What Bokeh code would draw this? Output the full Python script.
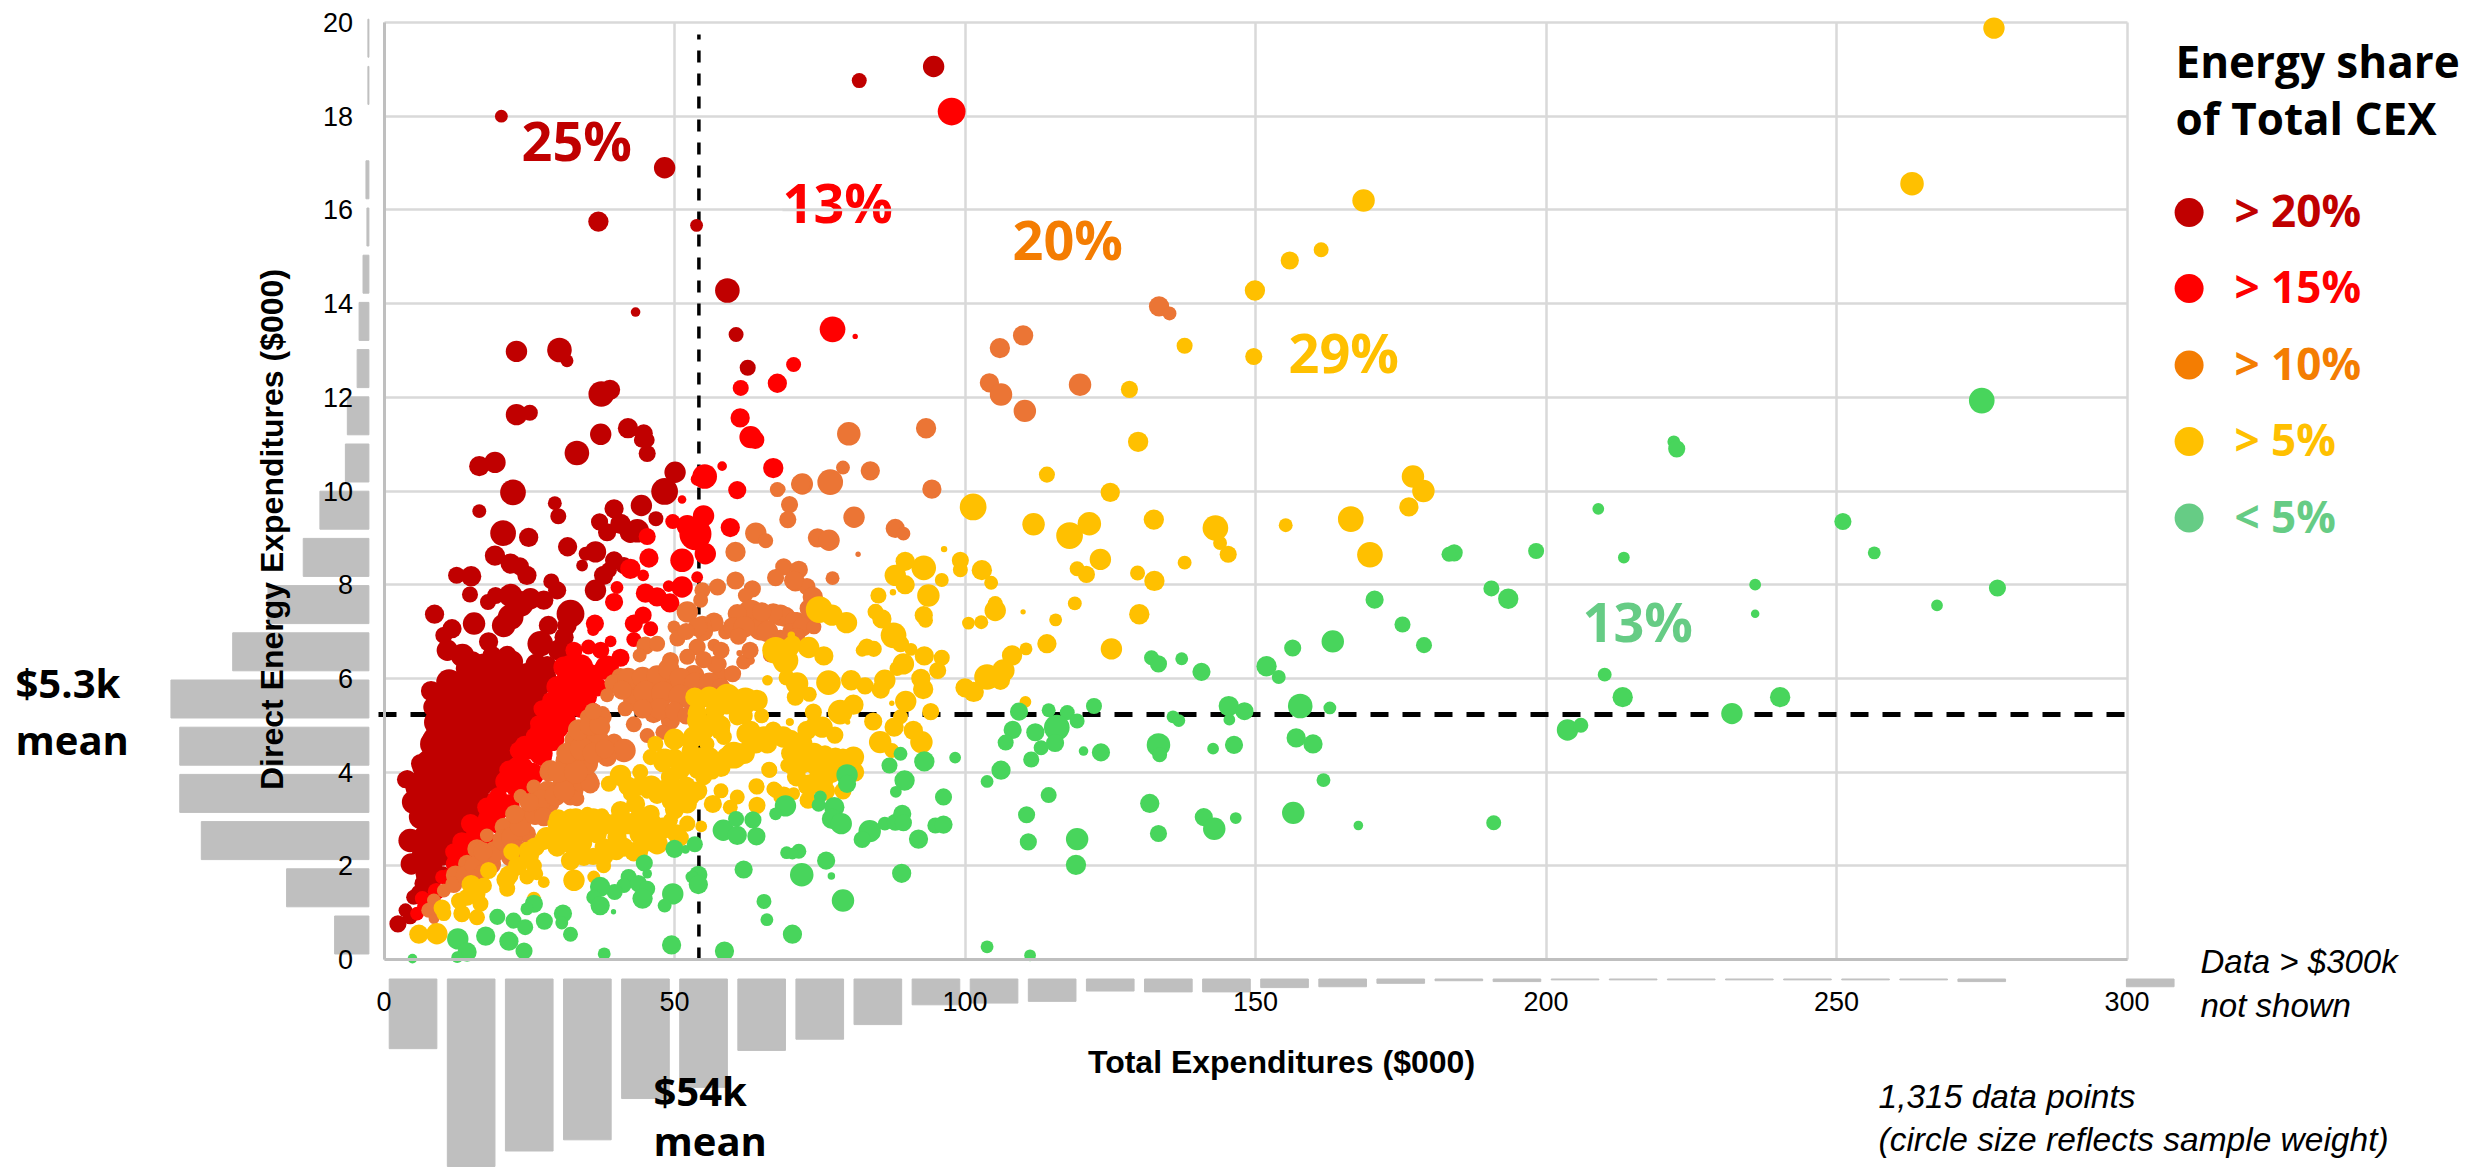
from bokeh.plotting import figure
from bokeh.models import Range1d, FixedTicker, ColumnDataSource
from bokeh.core.properties import value
from bokeh.embed import file_html
from bokeh.resources import INLINE
from math import pi

# ---- data (x = total expenditures $000, y = direct energy $000, d = circle size) ----
share20 = [
(94.6,19.06,20),(81.8,18.76,14),(20.2,18.0,12),(48.3,16.9,20),(36.9,15.75,19),(53.8,15.67,12),
(59.1,14.28,23),(43.3,13.82,9),(60.6,13.34,14),(22.8,12.98,20),(30.2,13.01,23),(31.5,12.78,12),(62.6,12.63,15),
(37.4,12.07,24),(38.9,12.16,19),(22.8,11.63,20),(25.1,11.67,15),(37.3,11.21,20),(42.0,11.34,19),(44.7,11.23,17),
(44.3,11.09,14),(45.3,11.09,14),(45.3,10.80,16),(33.2,10.81,23),(16.4,10.53,19),(19.1,10.61,20),(50.1,10.40,20),
(48.3,9.99,25),(22.2,9.97,24),(29.4,9.74,13),(30.0,9.46,15),(16.4,9.57,13),(44.3,9.69,20),(39.6,9.62,18),
(46.8,9.41,14),(37.1,9.34,16),(38.4,9.12,17),(40.7,9.30,19),(42.4,9.12,20),(43.6,9.15,22),(20.5,9.10,24),
(24.9,9.01,18),(31.6,8.81,18),(36.4,8.70,20),(34.1,8.41,11),(34.7,8.66,13),(39.6,8.52,17),(37.8,8.20,18),
(36.4,7.88,20),(38.7,8.31,15),(41.3,8.41,16),(19.1,8.62,19),(21.8,8.45,19),(23.4,8.39,17),(24.6,8.20,18),
(12.5,8.20,16),(15.0,8.18,19),(14.8,7.79,15),(28.8,8.07,15),(29.8,7.88,17),(8.7,7.37,18),(15.5,7.17,21),
(17.9,7.63,15),(19.2,7.77,16),(21.8,7.77,22),(23.5,7.59,24),(25.2,7.70,20),(27.5,7.67,18),(21.8,7.31,24),
(20.6,7.13,22),(32.1,7.38,26),(31.5,7.13,18),(28.3,7.13,18),(31.0,6.88,18),(26.9,6.74,24),(30.1,6.60,20),
(11.7,7.06,18),(10.3,6.92,16),(10.9,6.60,20),(13.5,6.49,22),(18.0,6.78,18),(18.6,6.49,18),(21.2,6.49,18),
(14.0,6.21,18),(15.7,6.17,22),(19.5,6.06,28),(20.6,6.17,20),(24.6,6.10,20),(27.8,6.03,20),(26.4,5.82,22),
(12.3,5.71,28),(8.1,5.73,19),(14.6,5.74,24),(17.8,5.74,24),(20.6,5.78,24),(22.9,5.46,22),(9.6,5.39,18),
(12.6,5.39,24),(16.0,5.39,26),(19.5,5.32,24),(25.2,5.39,20),(9.2,4.68,28),(12.0,4.82,30),(14.3,4.96,28),
(17.8,4.68,30),(20.1,4.61,22),(10.3,4.96,18),(21.8,4.75,18),(11.4,4.39,24),(15.2,4.32,26),(18.3,4.32,24),
(6.3,4.18,18),(9.7,4.11,24),(13.2,4.04,24),(16.6,3.97,24),(4.0,3.86,16),(5.7,3.68,22),(8.6,3.68,24),
(12.0,3.68,24),(15.2,3.68,24),(18.0,3.82,18),(3.7,3.84,16),(6.5,4.11,18),(5.1,3.36,22),(7.4,3.54,26),
(10.3,3.68,28),(13.7,3.47,26),(16.6,3.75,24),(18.3,3.86,18),(6.3,3.04,22),(9.1,3.11,24),(12.0,3.18,22),
(14.9,3.11,20),(4.5,2.54,22),(8.0,2.83,20),(10.9,2.75,18),(4.7,2.04,20),(8.6,2.40,22),(10.3,2.54,18),
(7.4,1.90,20),(8.6,2.04,16),(6.8,1.62,17),(5.1,1.33,14),(3.7,1.05,13),(2.4,0.76,16),(4.5,0.91,14),
(9.7,4.25,24),(12.6,4.11,24),(15.4,4.25,24),(18.3,4.46,26),(20.0,4.75,22),(21.8,5.1,22),(25.2,5.39,18),
(11.4,5.17,24),(14.9,5.25,24),(18.3,5.32,22),(8.6,5.39,20),
# read from the solid dark mass
(11.2,5.92,24),(13.1,5.88,24),(16.2,5.95,26),(19.3,5.85,24),(22.6,5.93,24),(25.3,5.87,22),(27.2,5.95,20),
(10.6,5.52,24),(13.6,5.47,26),(16.9,5.55,26),(20.2,5.48,24),(23.1,5.52,24),(26.2,5.45,20),
(9.1,5.06,24),(11.6,5.02,26),(14.8,5.1,26),(17.6,5.03,28),(20.6,5.08,26),(23.7,5.01,24),(26.1,5.07,20),
(8.6,4.6,26),(11.1,4.56,26),(13.4,4.63,26),(16.6,4.58,26),(19.1,4.62,26),(22.2,4.55,22),
(7.6,4.22,22),(10.6,4.18,26),(13.6,4.24,26),(16.1,4.19,26),(19.2,4.16,22),(20.6,4.24,18),
(6.6,3.82,22),(9.6,3.78,26),(12.1,3.85,26),(14.6,3.79,26),(17.1,3.83,22),(19.1,3.77,16),
(6.1,3.42,22),(8.1,3.37,24),(11.1,3.43,24),(13.1,3.38,24),(15.6,3.42,22),(17.6,3.36,16),
(6.6,3.02,22),(8.6,2.97,24),(10.6,3.03,24),(13.1,2.98,22),(15.1,3.02,18),
(7.1,2.62,22),(9.1,2.57,22),(11.1,2.63,22),(13.1,2.58,18),
(6.6,2.22,20),(8.1,2.18,22),(10.1,2.23,20),(11.6,2.17,16),
(7.1,1.82,18),(8.6,1.77,18),(10.1,1.83,14),(6.1,1.42,16),(7.6,1.38,16),
(15.1,6.33,22),(17.2,6.28,22),(22.1,6.36,20),(26.2,6.3,20),(28.1,6.27,18),
]
share15 = [
(97.7,18.1,26),
(67.7,12.3,18),(70.5,12.7,14),(61.4,12.2,15),(61.3,11.56,18),(63.1,11.15,21),(63.9,11.09,17),(58.2,10.53,9),
(55.2,10.31,23),(53.9,10.25,12),(67,10.49,19),(60.8,10.02,17),(51.3,9.82,8),(49.7,9.35,14),(52.2,9.26,20),
(55,9.47,20),(53.6,9.08,30),(59.6,9.22,18),(45.3,9.03,16),(77.2,13.45,24),(81.1,13.3,5),(55.3,8.66,20),
(51.3,8.52,22),(45.6,8.57,18),(42.4,8.34,19),(44.6,8.2,11),(40.1,7.94,12),(53.9,8.16,11),(49,7.97,11),
(51.3,7.95,20),(45,7.82,18),(47,7.74,18),(49.2,7.61,18),(39.6,7.63,17),(36.3,7.17,17),(36,7.03,11),
(44.6,7.35,16),(43,7.17,17),(45.9,7.06,14),(43,6.83,14),(39,6.79,11),(40.7,6.44,17),(35.2,6.67,14),
(37.3,6.6,16),(32.7,6.6,16),(38.4,6.24,22),(31,6.24,20),(33.8,6.24,24),(31.5,5.89,24),(29.8,5.82,20),
(33.8,5.67,22),(36.7,5.82,18),(27.2,5.35,16),(28.7,5.53,16),(30.4,5.32,24),(33.8,5.39,20),(26.6,5.03,16),
(29.8,4.96,22),(27.8,4.71,17),(24.2,4.57,18),(23.5,4.39,16),(27.5,4.29,15),(23.2,4.46,17),(21.5,4.04,18),
(24,4.11,18),(19.7,3.5,16),(22.6,3.68,18),(17.7,3.25,18),(20,3.18,16),(14.9,2.9,18),(17.5,2.9,18),
(13.4,2.51,18),(15.7,2.61,18),(12,2.04,15),(14.6,2.19,16),(10,1.76,13),(6.6,1.3,14),(5.7,0.98,13),(6.8,1.12,12),
(38,6.2,20),(35.5,6.05,22),(33,5.9,22),(31,5.6,22),(33,5.5,22),(35,5.6,18),(29,5.3,22),(31,5.1,22),
(27,4.9,20),(29,4.7,22),(25,4.5,20),(27,4.4,22),(23,4.1,20),(25.5,3.95,22),(21,3.8,20),(23.5,3.6,20),
(19.5,3.4,20),(21.5,3.3,20),(18,3.0,20),(19.5,2.9,18),(16,2.7,20),(17.5,2.55,18),(14,2.35,18),(15.5,2.2,16),
(12.5,2.1,18),(11,1.75,16),(9,1.45,16),(8,1.2,14),(12,2.3,16),(36,5.3,16),(32,6.3,18),(26,4.75,18),(24,4.0,16),
]
share10 = [
(133.4,13.94,19),(135.2,13.79,13),(110,13.32,19),(106,13.05,19),(104.2,12.31,18),(106.2,12.06,21),(110.3,11.71,21),
(119.8,12.27,21),(80,11.22,22),(93.3,11.34,19),(79,10.5,13),(83.7,10.43,18),(76.8,10.19,24),(72,10.15,20),
(94.3,10.04,18),(69.8,9.71,16),(80.9,9.44,20),(68.2,10.04,10),(69.5,9.39,16),(88,9.2,18),(89.4,9.09,13),
(74.6,9.0,18),(76.6,8.95,20),(81.6,8.65,5),(77.2,8.14,13),(68.8,8.38,16),(71.4,8.32,17),(70.8,8.06,18),
(72.8,7.96,16),(73.8,7.74,19),(73.4,7.38,14),(69.1,7.31,19),(71.1,7.2,19),(68.2,6.88,14),(67.7,10.03,14),
(71.7,10.15,18),(64,9.1,20),(65.7,8.94,14),(60.5,8.7,19),(67.4,8.15,16),(70.5,8.09,18),(60.5,8.09,17),
(57.4,7.95,16),(54.8,7.88,15),(54.5,7.67,14),(63.4,7.91,16),(62.2,7.77,14),(52.2,7.42,20),(63.1,7.38,26),
(60.8,7.38,18),(68.2,7.35,20),(70.5,7.24,16),(64.8,7.06,22),(58.8,6.99,14),(56.8,7.2,18),(54.8,7.13,18),
(49.9,7.1,12),(50.5,6.85,15),(45,6.7,17),(47,6.74,15),(44,6.49,13),(53.9,6.67,16),(56.8,6.71,12),(52.2,6.46,15),
(49.3,6.38,16),(61.2,6.54,6),(61.9,6.35,14),(63.1,6.38,8),(57.8,6.31,13),(57.9,6.06,16),(40.7,6.03,17),
(39.6,5.89,18),(38.4,5.64,13),(43.6,5.82,20),(46.4,5.85,20),(43,5.53,20),(46.4,5.53,22),(49.9,5.82,22),
(53.3,6.06,20),(55.1,5.74,20),(52.8,5.53,18),(46.4,5.25,18),(43,5.02,15),(45.3,4.78,14),(49.3,5.1,18),
(35,5.18,14),(37.6,5.25,14),(34.1,4.89,18),(37.3,4.96,18),(32.7,4.68,16),(35.8,4.61,20),(39.6,4.64,16),
(41.3,4.46,22),(38.4,4.32,18),(31,4.18,17),(34.4,4.21,20),(28.4,4,18),(31.5,3.9,18),(35,3.82,20),(25.8,3.68,14),
(23.5,3.5,12),(28.7,3.61,16),(32.7,3.61,18),(37.8,5.17,15),(32.9,4.68,20),(36.7,4.68,22),(31.2,4.25,18),
(28.6,4.04,19),(35,4.18,20),(30.9,3.82,20),(35.5,3.75,18),(28.1,3.61,18),(23.5,3.48,13),(32.1,3.47,16),
(33.2,3.43,14),(25.2,3.15,18),(28.6,3.32,17),(20.6,2.83,17),(17.7,2.65,13),(24.6,2.68,17),(16,2.36,18),
(20.6,2.47,20),(14.3,2.04,17),(18.3,2.04,20),(21.8,2.19,18),(12.3,1.8,18),(14.9,1.69,18),(10.3,1.47,13),
(8.6,1.26,13),(9.7,1.05,12),(7.7,1.05,14),(8.6,0.87,10),
(12,1.6,16),(14,1.8,18),(15.5,2.0,18),(17,1.85,16),(19,2.3,20),(17,2.3,18),(20.5,2.55,20),(22,2.6,20),(23.5,2.85,20),
(22.5,3.1,18),(26,3.1,20),(27,3.4,20),(25,3.35,18),(29.5,3.5,20),(31,3.6,20),(30,4.0,20),(33,4.0,22),(31.5,4.4,20),
(34,4.5,22),(36,4.4,20),(38,4.5,18),(33.5,4.9,20),(35.5,5.0,20),(37,5.0,18),(36,5.3,16),(27.5,3.05,18),(23,2.35,18),
(42,6.0,20),(44.5,6.02,20),(47,6.05,20),(49,6.2,20),(51,6.0,20),(53.5,5.9,20),(45,5.7,22),(48,5.68,22),(51,5.62,22),
(54,5.55,20),(57,6.3,16),(60,6.1,16),(56,5.9,20),(58,5.8,18),(55,6.4,16),(47.5,5.35,20),(44.5,5.35,18),(50,5.3,18),
(52,5.2,16),(48,4.85,14),(41,5.75,18),(41.5,5.35,14),
(55,7.0,18),(58,6.6,16),(60,7.1,18),(62,7.1,20),(66,7.0,20),(67,7.4,18),(65,7.42,18),(54,7.1,18),(52,7.0,16),
(70,7.0,16),(72,7.1,18),(71,6.9,16),(73,7.5,16),(74,7.1,14),(68,6.8,16),(66.5,6.5,14),(63,6.6,16),(61,6.9,16),
]
share5 = [
(277.1,19.88,20),(263,16.56,22),(168.6,16.2,21),(161.3,15.15,14),(155.9,14.92,17),(149.9,14.28,19),(149.7,12.87,16),
(137.8,13.1,15),(128.3,12.17,16),(129.8,11.05,19),(114.1,10.35,15),(125,9.97,18),(101.4,9.66,25),(111.8,9.29,21),
(118,9.05,25),(121.4,9.3,22),(132.5,9.39,19),(123.3,8.54,20),(119.3,8.34,14),(120.9,8.22,16),(129.7,8.25,14),
(132.6,8.08,19),(137.8,8.47,13),(118.9,7.6,13),(130,7.37,19),(115.6,7.25,12),(110,7.42,5),(105.2,7.45,20),
(105.2,7.6,14),(102.8,7.2,13),(100.6,7.18,12),(114.1,6.74,18),(110.5,6.63,12),(108.1,6.49,19),(125.2,6.63,20),
(106.6,6.17,21),(103.8,6.03,24),(106.1,5.96,18),(100,5.8,18),(101.5,5.71,19),(110.4,5.5,11),(99.2,8.52,16),
(99.2,8.32,14),(102.9,8.31,19),(104.5,8.04,13),(96.4,8.76,6),(92.9,8.36,23),(89.7,8.5,18),(88,8.2,20),
(89.7,8,18),(96,8.1,13),(85.1,7.77,15),(87.6,7.84,6),(93.7,7.77,21),(92.9,7.35,17),(93.2,7.24,14),(74.9,7.47,25),
(77.1,7.35,20),(79.6,7.19,20),(84.6,7.42,15),(85.7,7.27,18),(87.7,6.92,24),(88.9,6.74,16),(90.7,6.62,12),
(82.3,6.6,12),(83.1,6.67,16),(84.3,6.63,15),(89.4,6.31,20),(88.3,6.21,14),(93,6.48,18),(96,6.44,15),(95.3,6.17,16),
(73.1,6.66,20),(75.7,6.48,18),(69.9,6.67,18),(70.1,6.92,7),(69.1,6.38,24),(76.5,5.91,23),(80.4,5.96,19),
(82.8,5.84,16),(86.2,5.96,20),(85.5,5.76,17),(92.4,6,18),(92.8,5.77,19),(71.1,5.89,21),(70.8,5.6,16),(73.2,5.66,14),
(69.3,6.02,15),(89.8,5.51,20),(87.4,5.47,5),(80.8,5.44,19),(78.5,5.28,23),(94.1,5.29,16),(73.9,5.28,16),
(88.9,5.18,14),(84.2,5.08,17),(79.8,5.07,5),(69.8,5.07,7),(87.8,4.96,18),(91.1,4.89,18),(75.4,4.96,20),
(77.6,4.79,16),(72.8,4.89,18),(92.5,4.64,21),(85.4,4.64,21),(68.7,4.75,20),(71.9,4.61,20),(87.4,4.46,14),
(80.8,4.32,20),(77.7,4.32,18),(75.9,4.39,16),(71.6,4.36,20),(70.5,4.14,19),(73.9,4.14,16),(76.2,4.11,22),
(75.7,3.82,18),(73.1,3.72,20),(68.8,3.5,17),(59,5.46,20),(61.9,5.46,22),(64.2,5.53,20),(53.9,5.25,18),
(53.3,4.75,20),(58.5,4.75,15),(63.1,4.89,18),(65.9,4.75,18),(68.2,4.75,14),(52.7,4.46,16),(55.6,4.6,14),
(60.2,4.36,25),(66.3,4.05,15),(69.4,4.14,13),(64.1,3.7,15),(67.1,3.64,14),(60.8,3.47,14),(64.2,3.29,16),
(59.6,3.25,14),(56.6,3.32,17),(68.2,3.47,13),(51,4.04,18),(49.3,3.89,18),(53.9,4.04,16),(56.5,4,14),(49.6,3.4,20),
(52.2,3.32,18),(53,3.47,15),(46.7,4.6,15),(48.1,4.32,16),(45.9,4.32,15),(44.1,4,15),(40.7,3.93,20),(38.7,3.75,15),
(42.4,3.54,14),(45.3,3.57,12),(43.3,3.32,18),(40.7,3.18,18),(45.9,3.11,17),(37.5,3.07,14),(35,3.11,13),(32.1,3.04,16),
(29.5,2.9,15),(34.1,2.79,20),(31.5,2.75,18),(36.7,2.68,18),(40.1,2.61,18),(27.5,2.54,18),(24.6,2.34,15),(29.8,2.4,18),
(33.2,2.47,18),(37.8,2.4,17),(41.3,2.4,18),(44.1,2.68,20),(47,2.47,20),(50.4,2.68,18),(49.3,2.97,14),(52.2,2.9,15),
(54.6,2.84,11),(32.1,2.11,18),(34.4,2.19,17),(37.8,2,14),(36.1,1.76,12),(32.7,1.69,20),(25.8,2,15),(21.5,1.8,18),
(21.2,1.51,15),(24.6,1.76,14),(27.5,1.65,11),(26.3,1.83,12),(17.2,1.58,15),(14.3,1.33,16),(16.6,1.19,15),(13.4,0.98,16),
(16,0.9,15),(10.3,0.98,14),(9.1,0.55,20),(6,0.54,18),(25.8,1.3,13),(67.4,6.6,25),(70.3,6.74,16),(66,5.96,10),
(59.1,5.6,25),(62.2,5.53,24),(69.9,5.07,7),(53.9,5.32,16),(54.5,4.96,16),(57.9,4.89,18),(60.8,5.18,16),(62.5,4.82,20),
(65.4,4.75,20),(48.5,4.32,16),(52.8,4.61,15),(60.8,4.39,20),(66.4,4.04,14),(71.1,4.14,12),(64.2,3.68,14),(67.4,3.61,14),
(70.5,3.54,12),(55.6,4.11,15),(177.1,10.31,21),(178.9,10,21),(176.4,9.66,18),(155.2,9.27,13),(166.4,9.4,24),
(143.1,9.21,24),(143.9,8.89,13),(145.3,8.65,16),(169.7,8.64,24),
(10,1.1,16),(13,1.25,16),(15,1.6,18),(16,1.4,16),(18,1.9,16),(21,1.7,18),(23,2.0,18),(22,2.3,16),(25,2.2,18),(26,2.4,18),
(28,2.6,20),(30,2.7,20),(32,2.5,20),(34,2.5,20),(30,3.0,18),(33,3.0,20),(36,3.0,20),(38,2.9,20),(40,2.9,20),(42,2.9,20),
(44,3.0,20),(46,2.9,20),(48,2.8,20),(51,2.6,16),(36,2.2,16),(38,2.2,16),(40,2.3,16),(43,2.3,18),(45,2.5,18),(47,2.7,18),
(50,3.2,18),(42,3.7,18),(44,3.7,18),(46,3.7,20),(48,3.6,20),(50,3.6,20),(52,3.7,18),(54,3.6,18),(47,3.5,16),
(48,4.2,18),(50,4.3,18),(52,4.2,20),(54,4.3,20),(56,4.3,20),(58,4.1,18),(50,4.7,20),(55,4.9,20),(57,5.3,18),(53.5,5.6,18),
(54,5.1,20),(56,5.0,18),(58,5.0,18),(59,4.3,20),(62,4.4,20),(64,4.6,18),(66,4.6,18),(70,4.7,18),(74,5.0,16),(62,5.2,16),
(70,4.4,18),(72,4.2,20),(74,4.4,20),(77,4.0,20),(79,4.3,18),(81,4.0,18),(76,3.6,18),(75,3.9,20),(79,3.6,16),(73,3.4,16),(71,3.9,18),
(55,3.9,16),(58,3.6,14),(44,2.3,16),(56,5.6,20),(65,5.2,14),(67,4.9,16),
]
share0 = [
(251.1,9.35,16),(256.5,8.68,12),(222,11.05,12),(222.5,10.9,16),(275,11.93,24),(209,9.62,11),(213.4,8.58,11),(184.2,8.68,16),
(198.3,8.72,15),(236,8.0,11),(277.7,7.93,16),(267.3,7.56,11),(236,7.38,8),
(183.3,8.65,14),(170.5,7.68,17),(175.3,7.15,15),(163.3,6.79,21),(179,6.71,15),(156.4,6.65,16),(151.9,6.26,19),(154,6.03,13),
(190.6,7.92,15),(193.5,7.7,19),(140.7,6.14,17),(132.1,6.44,14),(133.3,6.31,16),(137.3,6.42,12),(122.2,5.41,15),(109.3,5.29,17),
(114.4,5.32,13),(117.6,5.27,14),(119.3,5.09,14),(145.4,5.41,19),(148.1,5.3,17),(145.5,5.12,11),(157.7,5.41,23),(162.8,5.37,12),
(135.8,5.18,12),(136.8,5.1,12),(157,4.73,18),(159.9,4.6,18),(146.3,4.58,17),(142.7,4.5,11),(133.3,4.58,22),(133.5,4.37,14),
(123.4,4.42,17),(120.4,4.45,9),(108.2,4.9,17),(107,4.63,15),(112.1,4.85,17),(115.8,4.95,24),(113.1,4.52,14),(115.5,4.62,17),
(111.4,4.27,15),(106.2,4.04,18),(103.8,3.8,12),(161.7,3.83,13),(156.5,3.13,21),(131.8,3.33,18),(141.1,3.04,17),(146.6,3.02,11),
(142.9,2.79,21),(133.3,2.69,16),(167.7,2.86,9),(191,2.92,14),(114.4,3.51,15),(110.6,3.09,16),(119.3,2.57,21),(110.9,2.51,16),
(119.1,2.02,19),(103.8,0.27,12),(111.2,0.09,11),(203.7,4.9,20),(206,5.0,14),(213.2,5.6,19),(210.1,6.08,13),(232,5.25,20),(240.3,5.6,19),
(88.9,4.39,13),(93,4.23,19),(98.3,4.31,11),(87,4.14,15),(79.7,3.94,20),(79.7,3.75,17),(89.6,3.82,19),(88.1,3.58,11),(96.3,3.47,16),
(75.1,3.47,12),(74.8,3.3,13),(69.1,3.28,20),(77.5,3.25,19),(77.1,3.0,19),(78.7,2.9,20),(83.6,2.74,21),(82.3,2.56,16),(86.2,2.9,13),
(88,2.93,16),(89.2,3.11,17),(89.4,2.92,16),(92,2.57,18),(94.9,2.86,15),(96.3,2.88,17),(69.3,2.28,12),(71.4,2.31,14),(70.3,2.26,11),
(76.1,2.11,17),(71.9,1.81,22),(77,1.78,7),(89.1,1.84,18),(79,1.26,21),(70.3,0.54,18),(61.9,1.92,17),(67.4,3.11,12),(58.4,2.76,20),
(60.6,3,15),(63.5,2.98,16),(60.8,2.65,18),(64.1,2.63,17),(50,2.36,17),(53.5,2.46,15),(51.9,2.35,8),(54.1,1.81,17),(53,1.76,12),
(54.1,1.6,18),(49.7,1.4,20),(48.3,1.15,13),(65.4,1.24,14),(65.9,0.85,12),(49.5,0.31,18),(58.6,0.18,18),(37.9,0.12,12),(44.8,2.06,16),
(45.3,1.83,9),(42.1,1.76,15),(41.3,1.58,14),(43.8,1.62,16),(45.3,1.51,15),(44.5,1.3,19),(39.7,1.44,15),(37.2,1.55,19),(36.1,1.33,14),
(37.2,1.15,18),(39.5,1.02,5),(25.8,1.19,17),(24.6,1.08,12),(27.6,0.82,16),(30.8,0.98,17),(30.6,0.78,12),(32.1,0.54,14),(19.5,0.91,15),
(22.3,0.83,15),(24.3,0.69,15),(17.5,0.5,18),(21.5,0.39,18),(24.1,0.18,16),(12.7,0.44,20),(14.3,0.16,18),(12.6,0.05,11),(4.9,0.02,9),
]
bottom_bins = [5,15,25,35,45,55,65,75,85,95,105,115,125,135,145,155,165,175,185,195,205,215,225,235,245,255,265,275,304]
bottom_counts = [81,218,200,187,139,126,83,70,53,30,28,26,14,15,15,10,9,5,2,3,1,1,1,1,1,1,1,3,9]
left_bins = [0.5,1.5,2.5,3.5,4.5,5.5,6.5,7.5,8.5,9.5,10.5,11.5,12.5,13.5,14.5,15.5,16.5,18.5,19.5]
left_counts = [35,84,171,193,193,202,139,103,67,50,24,22,12,10,6,2,3,1,1]
x_ticks = [0,50,100,150,200,250,300]
y_ticks = [0,2,4,6,8,10,12,14,16,18,20]
x_mean, y_mean = 54.2, 5.23
legend_labels = ["> 20%","> 15%","> 10%","> 5%","< 5%"]
legend_colors = ["#C00000","#FF0000","#F47D02","#FFC000","#66CC85"]
share_labels = [("25%",521,163,"#C00000"),("13%",782,225,"#FF0000"),("20%",1012,262,"#F47D02"),("29%",1288,375,"#FFC000"),("13%",1582,644,"#66CC85")]

# ---- layout: page pixels <-> data ----
W, H = 2471, 1170
PX0, PXU = 383.5, 5.81
PY0, PYU = 959.0, 46.85
SIZE_K = 1.07
def X(px): return (px-PX0)/PXU
def Y(py): return (PY0-py)/PYU

p = figure(width=W, height=H, output_backend="svg", toolbar_location=None,
           x_range=Range1d(X(0),X(W)), y_range=Range1d(Y(H),Y(0)),
           min_border=0, outline_line_color=None, background_fill_color="white", border_fill_color="white")

# histogram scales
p.extra_y_ranges = {"hcount": Range1d((H-978.5)/0.86,(0-978.5)/0.86), "hbin": Range1d((958.1-H)/47.2,958.1/47.2)}
p.extra_x_ranges = {"lcount": Range1d(368.4/0.98,(368.4-W)/0.98)}

GRID="#D9D9D9"; AX="#BFBFBF"; TICK_FONT="Liberation Sans"; BOLD="Open Sans"
for ax,t in ((p.xaxis,x_ticks),(p.yaxis,y_ticks)):
    ax.ticker=FixedTicker(ticks=t)
    ax.fixed_location=0
    ax.axis_line_color=AX; ax.axis_line_width=3
    ax.major_tick_line_color=None; ax.minor_tick_line_color=None
    ax.major_tick_out=0; ax.major_tick_in=0
    ax.major_label_text_font=TICK_FONT; ax.major_label_text_font_size="27px"; ax.major_label_text_color="black"
p.xaxis.bounds=(0,300); p.yaxis.bounds=(0,20)
p.xaxis.major_label_standoff=32; p.yaxis.major_label_standoff=31

p.xgrid.ticker=FixedTicker(ticks=x_ticks); p.ygrid.ticker=FixedTicker(ticks=y_ticks)
for g,b in ((p.xgrid,(0,20)),(p.ygrid,(0,300))):
    g.grid_line_color=GRID; g.grid_line_width=2.5
    g.cross_bounds=b
    g.level="underlay"

# histograms
p.vbar(x=bottom_bins,top=bottom_counts,bottom=0,width=8.2,color="#BFBFBF",y_range_name="hcount",level="underlay")
p.hbar(y=left_bins,right=left_counts,left=0,height=0.805,color="#BFBFBF",x_range_name="lcount",y_range_name="hbin",level="underlay")

# mean lines
p.line([x_mean,x_mean],[0,Y(34)],line_color="black",line_width=3.5,line_dash="12 11")
p.line([X(378),300],[y_mean,y_mean],line_color="black",line_width=5,line_dash="18 14")

# scatter
for pts,c in ((share20,"#C00000"),(share15,"#FF0000"),(share10,"#EB7535"),(share5,"#FFC000"),(share0,"#48D55C")):
    s=ColumnDataSource(dict(x=[a[0] for a in pts],y=[a[1] for a in pts],d=[a[2]*SIZE_K for a in pts]))
    p.scatter("x","y",size="d",source=s,fill_color=c,line_color=None)

# texts: BASE compensates the offset of the alphabetic baseline in the svg output
BASE=0.44
def txt(t,px,py,font=BOLD,size=40,style="bold",color="black",align="left",angle=0):
    if angle:
        px=px-BASE*size
    else:
        py=py-BASE*size
    p.text([X(px)],[Y(py)],text=[t],text_font=value(font),text_font_style=style,text_font_size=f"{size}px",text_color=color,text_baseline="alphabetic",text_align=align,angle=angle)

for t,px,py,c in share_labels:
    txt(t,px,py,size=54,color=c)
# the y = 16 grid line runs across the red label in the reference
p.line([X(782),X(892)],[16,16],line_color=GRID,line_width=2.5)
txt("$5.3k",15,700); txt("mean",15,757)
txt("$54k",653,1108); txt("mean",653,1158)
txt("Energy share",2175,80,size=44); txt("of Total CEX",2175,137,size=44)
LEG_Y=[212,288,364.6,441,517.6]
for t,c,py in zip(legend_labels,legend_colors,LEG_Y):
    p.scatter([X(2188.6)],[Y(py)],size=29,fill_color=c,line_color=None)
    txt(t,2234,py+17,size=44,color=c)

# axis titles
txt("Total Expenditures ($000)",1281,1076,font="Liberation Sans",size=32,align="center")
txt("Direct Energy Expenditures ($000)",286,529,font="Liberation Sans",size=32,align="center",angle=pi/2)

# notes
NOTE="Liberation Sans"
txt("Data > $300k",2200,976,font=NOTE,size=33,style="italic")
txt("not shown",2200,1020,font=NOTE,size=33,style="italic")
txt("1,315 data points",1878,1111,font=NOTE,size=33.5,style="italic")
txt("(circle size reflects sample weight)",1878,1154,font=NOTE,size=33.5,style="italic")

open("out.html","w").write(file_html(p,INLINE))
